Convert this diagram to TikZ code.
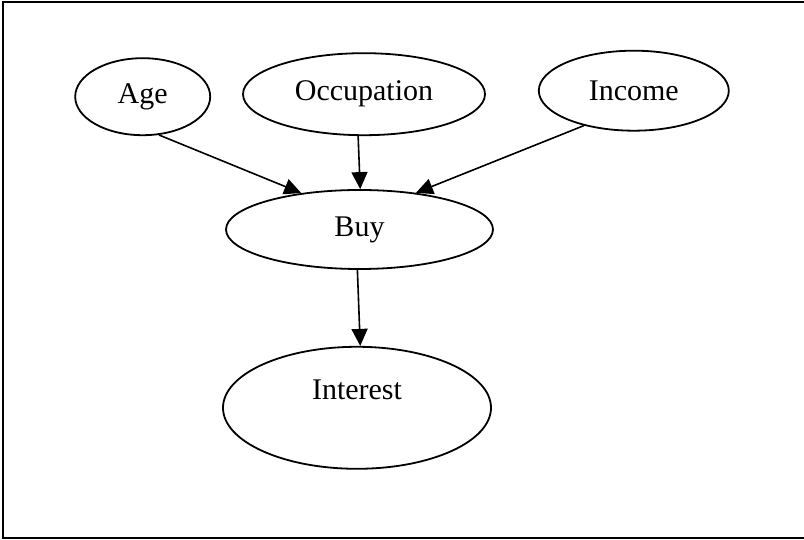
\documentclass[tikz,border=0pt]{standalone}
\usepackage{fontspec}
\setmainfont{Liberation Serif}
\usetikzlibrary{arrows.meta,positioning,shapes.geometric}

\begin{document}
\begin{tikzpicture}[
  var/.style={draw, ellipse, line width=0.9pt, inner sep=0pt, font=\fontsize{15pt}{18pt}\selectfont},
  arr/.style={-{Triangle[length=8.5pt, width=8pt]}, line width=0.8pt}
]
\useasboundingbox (0,0) rectangle (402pt,270pt);
\draw[line width=1pt] (1.5pt,1pt) rectangle (404pt,269pt);

\node[var, minimum width=133.5pt, minimum height=39.5pt] (buy) at (179.75pt,155.25pt) {Buy};
\node[var, minimum width=134pt, minimum height=61pt, text height=10pt, text depth=18pt, below=38pt of buy, xshift=-1.25pt] (interest) {Interest};
\node[var, minimum width=121pt, minimum height=41pt, above=26.5pt of buy, xshift=2.25pt] (occ) {Occupation};
\node[var, minimum width=67.5pt, minimum height=38.5pt, left=15.5pt of occ, yshift=-1.25pt] (age) {Age};
\node[var, minimum width=95pt, minimum height=40pt, right=26pt of occ, yshift=1.75pt] (income) {Income};

\draw[arr] (age.-67) -- (buy.148);
\draw[arr] (occ.-98) -- (buy.89);
\draw[arr] (income.-145) -- (buy.33);
\draw[arr] (buy.-93) -- (interest.87);
\end{tikzpicture}
\end{document}
